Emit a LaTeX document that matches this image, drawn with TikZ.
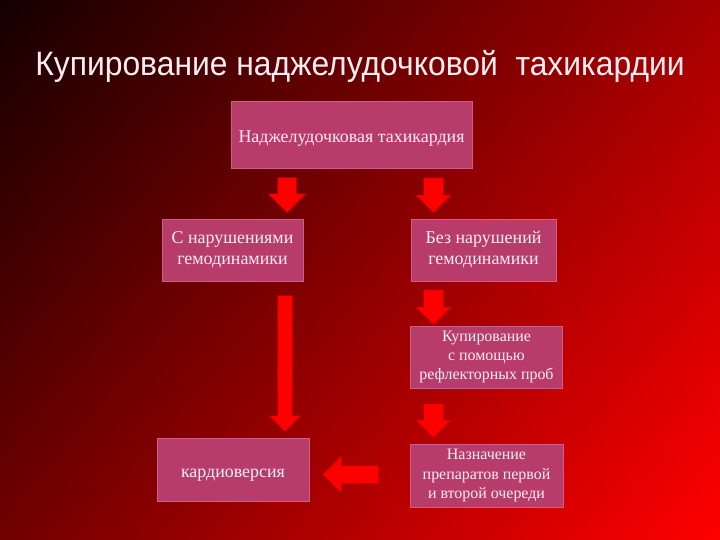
\documentclass[tikz,border=0pt]{standalone}
\usepackage{fontspec}
\setmainfont{Liberation Serif}
\newfontfamily\titlefont[FakeStretch=0.94]{Liberation Sans}
\usetikzlibrary{shapes.arrows,shadings}
\definecolor{bgTL}{RGB}{20,0,0}
\definecolor{bgTR}{RGB}{165,0,0}
\definecolor{bgBL}{RGB}{112,0,0}
\definecolor{bgBR}{RGB}{255,0,0}
\definecolor{boxfill}{RGB}{184,60,106}
\definecolor{boxline}{RGB}{205,95,135}
\definecolor{boxtext}{RGB}{252,236,242}
\definecolor{arrowline}{RGB}{190,0,0}
\begin{document}
\begin{tikzpicture}[x=1bp, y=-1bp,
                    box/.style = {shape = rectangle,
                                  fill = boxfill,
                                  draw = boxline,
                                  line width = 0.6bp,
                                  text = boxtext,
                                  inner sep = 0pt,
                                  align = center,
                                  execute at begin node = \rule{0pt}{19.5bp}},
                    bigarrow/.style = {single arrow,
                                       fill = red,
                                       draw = arrowline,
                                       line width = 0.6bp,
                                       inner xsep = 0pt,
                                       inner ysep = 9bp,
                                       single arrow head extend = 9.5bp}]
		% background
		\shade[upper left=bgTL, upper right=bgTR, lower left=bgBL, lower right=bgBR]
			(0,0) rectangle (720,540);
		\node[anchor=base, text=boxtext, font=\titlefont\fontsize{34}{40}\selectfont] (title) at (360,76)
			{Купирование наджелудочковой \ тахикардии};
		% boxes
		\node[box, minimum width=241bp, minimum height=67bp, font=\fontsize{18}{21}\selectfont] (svt) at (351.5,134.5)
			{Наджелудочковая тахикардия};
		\node[box, minimum width=141bp, minimum height=62bp, font=\fontsize{18}{21}\selectfont] (with) at (232.5,250)
			{С нарушениями\\гемодинамики};
		\node[box, minimum width=145bp, minimum height=62bp, font=\fontsize{18}{21}\selectfont] (without) at (483.5,250)
			{Без нарушений\\гемодинамики};
		\node[box, minimum width=152bp, minimum height=62bp, font=\fontsize{16}{19.5}\selectfont] (vagal) at (486.5,357)
			{Купирование\\ с помощью\\рефлекторных проб};
		\node[box, minimum width=153bp, minimum height=63bp, font=\fontsize{16}{19.5}\selectfont] (drugs) at (486.5,475.5)
			{Назначение\\препаратов первой\\и второй очереди};
		\node[box, minimum width=152bp, minimum height=63bp, font=\fontsize{18}{21}\selectfont] (cardio) at (233,469.5)
			{кардиоверсия};
		% arrows
		\node[bigarrow, minimum height=35bp, rotate=-90] (a1) at (287,190.5) {};
		\node[bigarrow, minimum height=35bp, inner ysep=9.5bp, single arrow head extend=8bp, rotate=-90] (a2) at (433.5,190.5) {};
		\node[bigarrow, minimum height=35bp, inner ysep=9.5bp, single arrow head extend=8bp, rotate=-90] (a3) at (433.5,302.5) {};
		\node[bigarrow, minimum height=136bp, inner ysep=7bp, single arrow head extend=8.5bp, rotate=-90] (a4) at (285,360) {};
		\node[bigarrow, minimum height=34bp, inner ysep=9.5bp, single arrow head extend=8bp, rotate=-90] (a5) at (433.5,416) {};
		\node[bigarrow, minimum height=56bp, inner ysep=8.5bp, single arrow head extend=10bp, rotate=180] (a6) at (355,474.5) {};
	\end{tikzpicture}
\end{document}
